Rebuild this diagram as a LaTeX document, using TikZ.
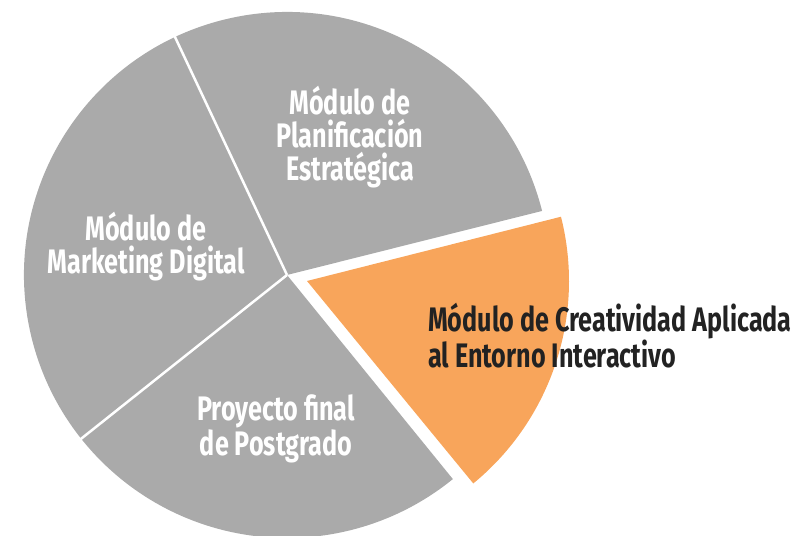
\documentclass[tikz,border=0pt]{standalone}
\usepackage{fontspec}
\setmainfont{Fira Sans}[FakeStretch=0.74]
\usetikzlibrary{calc}
\definecolor{piegray}{HTML}{AAAAAA}
\definecolor{pieorange}{HTML}{F8A55B}
\definecolor{labeldark}{HTML}{222222}
\begin{document}
\begin{tikzpicture}[x=1pt,y=1pt,
  graylabel/.style={text=white,align=center,inner sep=0pt,font=\fontsize{34}{33}\selectfont\bfseries},
  orangelabel/.style={text=labeldark,align=left,inner sep=0pt,anchor=west,font=\fontsize{34}{30}\selectfont\bfseries},
  divider/.style={draw=white,line width=2.5pt}]
\useasboundingbox (0,0) rectangle (807,536);
\coordinate (C) at (287,261);
\coordinate (O) at (307,255);
% gray part of the pie
\fill[piegray] (C) -- ++(14.1:263) arc[start angle=14.1,end angle=309.1,radius=263] -- cycle;
\coordinate (D1) at ($(C)+(115.2:264)$);
\coordinate (D2) at ($(C)+(218.5:264)$);
\draw[divider] (C) -- (D1);
\draw[divider] (C) -- (D2);
% exploded orange slice
\fill[pieorange] (O) -- ++(-50.6:262) arc[start angle=-50.6,end angle=14.2,radius=262] -- cycle;
% labels
\node[graylabel] (plan) at (350,399) {Módulo de\\Planificación\\Estratégica};
\node[graylabel] (mkt) at (146,289) {Módulo de\\Marketing Digital};
\node[graylabel] (proy) at (276,107) {Proyecto final\\de Postgrado};
\node[orangelabel] (crea) at (428,200.5) {Módulo de Creatividad Aplicada\\al Entorno Interactivo};
\end{tikzpicture}
\end{document}
